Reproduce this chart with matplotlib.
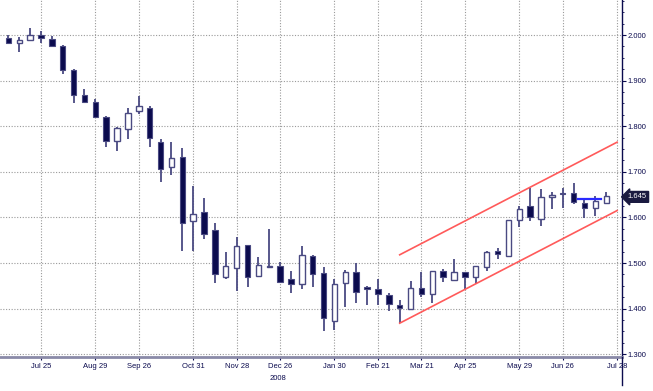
#! /usr/bin/env python

'''
Weekly candlesticks with a rising channel, 2007-2008
'''

import matplotlib.pyplot as plt
from matplotlib.ticker import MultipleLocator, FixedLocator

plt.rcParams['font.family'] = ['Liberation Sans Narrow', 'Liberation Sans', 'DejaVu Sans']

# weekly OHLC
opens = [1.994, 1.983, 1.989, 1.999, 1.992, 1.976, 1.923, 1.868, 1.853, 1.821,
         1.768, 1.793, 1.833, 1.839, 1.766, 1.710, 1.733, 1.592, 1.611, 1.573,
         1.469, 1.488, 1.539, 1.472, 1.492, 1.494, 1.464, 1.453, 1.515, 1.479,
         1.373, 1.456, 1.480, 1.448, 1.442, 1.429, 1.408, 1.399, 1.446, 1.432,
         1.482, 1.463, 1.480, 1.469, 1.492, 1.526, 1.516, 1.594, 1.624, 1.597,
         1.644, 1.654, 1.653, 1.632, 1.621, 1.632]
highs = [2.000, 1.995, 2.015, 2.009, 1.998, 1.978, 1.925, 1.881, 1.860, 1.823,
         1.798, 1.840, 1.867, 1.844, 1.771, 1.765, 1.752, 1.669, 1.642, 1.588,
         1.525, 1.556, 1.540, 1.513, 1.574, 1.502, 1.482, 1.537, 1.518, 1.491,
         1.464, 1.485, 1.501, 1.449, 1.465, 1.435, 1.419, 1.460, 1.480, 1.482,
         1.486, 1.508, 1.480, 1.493, 1.526, 1.534, 1.594, 1.624, 1.665, 1.662,
         1.656, 1.664, 1.676, 1.638, 1.647, 1.655]
lows = [1.980, 1.963, 1.987, 1.983, 1.974, 1.914, 1.852, 1.850, 1.817, 1.754,
        1.746, 1.773, 1.826, 1.755, 1.678, 1.692, 1.527, 1.527, 1.553, 1.456,
        1.464, 1.439, 1.447, 1.469, 1.492, 1.458, 1.435, 1.443, 1.448, 1.350,
        1.353, 1.404, 1.413, 1.408, 1.408, 1.395, 1.368, 1.397, 1.425, 1.412,
        1.459, 1.461, 1.442, 1.453, 1.483, 1.508, 1.513, 1.578, 1.592, 1.581,
        1.618, 1.620, 1.629, 1.598, 1.603, 1.632]
closes = [1.982, 1.989, 2.001, 1.994, 1.977, 1.923, 1.868, 1.853, 1.821, 1.767,
          1.796, 1.830, 1.844, 1.774, 1.706, 1.730, 1.588, 1.607, 1.564, 1.475,
          1.493, 1.537, 1.469, 1.496, 1.494, 1.458, 1.455, 1.518, 1.475, 1.380,
          1.455, 1.480, 1.437, 1.444, 1.433, 1.411, 1.401, 1.446, 1.433, 1.482,
          1.469, 1.481, 1.469, 1.493, 1.524, 1.520, 1.594, 1.619, 1.600, 1.644,
          1.649, 1.651, 1.634, 1.620, 1.635, 1.647]

tick_pos = [3, 8, 12, 17, 21, 25, 30, 34, 38, 42, 47, 51, 56]
tick_labels = ['Jul 25', 'Aug 29', 'Sep 26', 'Oct 31', 'Nov 28', 'Dec 26', 'Jan 30',
               'Feb 21', 'Mar 21', 'Apr 25', 'May 29', 'Jun 26', 'Jul 28']

# channel lines (bar index, price)
chan_x = [36, 56]
chan_low = [1.368, 1.615]
chan_high = [1.518, 1.765]
# short blue horizontal
hline_x = [52.4, 54.5]
hline_y = 1.640
last_price = '1.645'

navy = '#0b0b4e'
wick_col = '#4a4a82'

fig = plt.figure(figsize=(6.53, 3.91), dpi=100)
ax = fig.add_axes([0.0, 0.087, 0.9525, 0.913])

n = len(opens)
xs = list(range(n))
ax.vlines(xs, lows, highs, color=wick_col, linewidth=1.3, zorder=3)
for i in xs:
    o, c = opens[i], closes[i]
    bottom = min(o, c)
    h = max(abs(c - o), 0.0015)
    if c < o:
        ax.bar(i, h, bottom=bottom, width=0.5, color=navy, edgecolor=wick_col,
               linewidth=0.8, zorder=4)
    else:
        ax.bar(i, h, bottom=bottom, width=0.5, color='white', edgecolor=wick_col,
               linewidth=1.0, zorder=4)

ax.plot(chan_x, chan_low, color='#ff5a5a', linewidth=1.2, zorder=5)
ax.plot(chan_x, chan_high, color='#ff5a5a', linewidth=1.2, zorder=5)
ax.plot(hline_x, [hline_y, hline_y], color='#2a2aff', linewidth=1.6, zorder=5)

ax.set_xlim(-0.77, 56.45)
ax.set_ylim(1.2939, 2.0768)

ax.yaxis.tick_right()
ax.yaxis.set_major_locator(FixedLocator([1.3, 1.4, 1.5, 1.6, 1.7, 1.8, 1.9, 2.0]))
ax.yaxis.set_minor_locator(MultipleLocator(0.025))
ax.set_yticklabels(['%.3f' % v for v in [1.3, 1.4, 1.5, 1.6, 1.7, 1.8, 1.9, 2.0]])
ax.tick_params(axis='y', which='major', length=3, width=0.8, color=navy,
               labelsize=5.5, labelcolor=navy, pad=1)
ax.tick_params(axis='y', which='minor', length=1.5, width=0.6, color=navy)

ax.set_xticks(tick_pos)
ax.set_xticklabels(tick_labels)
ax.tick_params(axis='x', length=2, width=0.8, color=navy, labelsize=5.5,
               labelcolor=navy, pad=2)

ax.grid(True, which='major', color='#9a9a9a', linestyle=(0, (1, 1.5)), linewidth=0.8)

for s in ['top', 'left']:
    ax.spines[s].set_visible(False)
ax.spines['right'].set_color(navy)
ax.spines['right'].set_linewidth(1.0)
ax.spines['bottom'].set_color('#8a8aa8')
ax.spines['bottom'].set_linewidth(2.0)

# right axis line runs down below the plot
fig.add_artist(plt.Line2D([0.9525, 0.9525], [0.087, 0.015], color=navy, linewidth=1.0))

fig.text(278 / 653, 1 - 378 / 391, '2008', fontsize=5.5, color=navy, ha='center', va='center')

# last price tag
ax.annotate(last_price, xy=(1.0, 1.645), xycoords=('axes fraction', 'data'),
            xytext=(4, 0), textcoords='offset points', fontsize=5.5, color='white',
            va='center', ha='left',
            bbox=dict(boxstyle='larrow,pad=0.25', fc='#1a1a40', ec='#1a1a40'))

plt.savefig('out.png', dpi=100)
